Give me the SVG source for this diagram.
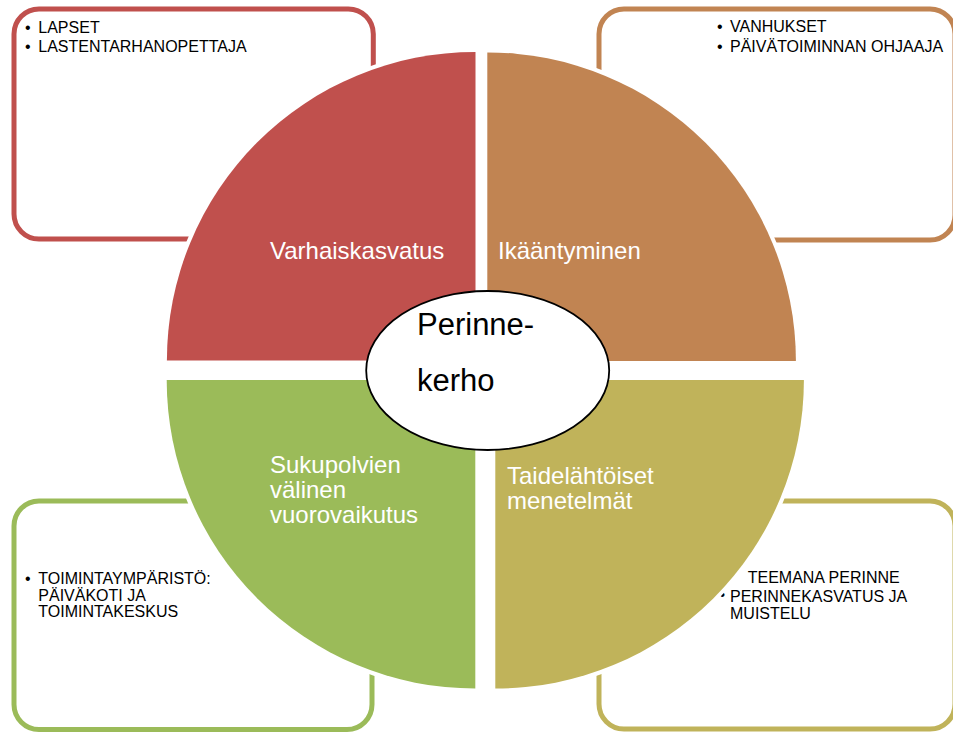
<svg xmlns="http://www.w3.org/2000/svg" width="953" height="733" viewBox="0 0 953 733">
<style>
.box{fill:#fff;stroke-width:5}
.q{stroke:#fff;stroke-width:8;paint-order:stroke}
.bt{font-family:"Liberation Sans",Arial,sans-serif;font-size:16px;fill:#000}
.qt{font-family:"Liberation Sans",Arial,sans-serif;font-size:24px;fill:#fff}
.ct{font-family:"Liberation Sans",Arial,sans-serif;font-size:31px;fill:#000}
</style>
<rect width="953" height="733" fill="#fff"/>
<g id="box-red">
<rect class="box" x="14" y="9" width="359.3" height="230" rx="25" stroke="#C0504D"/>
<text class="bt"><tspan x="25" y="32.5">•</tspan><tspan x="38.3" y="32.5">LAPSET</tspan><tspan x="25" y="52.3">•</tspan><tspan x="38.3" y="52.3">LASTENTARHANOPETTAJA</tspan></text>
</g>
<g id="box-orange">
<rect class="box" x="599" y="9" width="356" height="231" rx="25" stroke="#C18452"/>
<text class="bt"><tspan x="717" y="32.3">•</tspan><tspan x="730" y="32.3">VANHUKSET</tspan><tspan x="717" y="51.7">•</tspan><tspan x="730" y="51.7">PÄIVÄTOIMINNAN OHJAAJA</tspan></text>
</g>
<g id="box-green">
<rect class="box" x="14" y="501" width="358" height="228.5" rx="25" stroke="#9BBB59"/>
<text class="bt"><tspan x="25" y="584.3">•</tspan><tspan x="38.3" y="584.3">TOIMINTAYMPÄRISTÖ:</tspan><tspan x="38.3" y="600.8">PÄIVÄKOTI JA</tspan><tspan x="38.3" y="617.3">TOIMINTAKESKUS</tspan></text>
</g>
<g id="box-olive">
<rect class="box" x="599" y="501" width="356" height="228" rx="25" stroke="#C0B35A"/>
<text class="bt"><tspan x="747.7" y="583.3">TEEMANA PERINNE</tspan><tspan x="730" y="602">PERINNEKASVATUS JA</tspan><tspan x="730" y="619.3">MUISTELU</tspan></text>
<text class="bt" x="719.5" y="600" font-size="8">•</text>
</g>
<g id="q-red">
<path class="q" fill="#C0504D" d="M475.5,360.5 L166.9,360.5 A308.6,308.6 0 0 1 475.5,51.9 Z"/>
<text class="qt" x="270" y="259">Varhaiskasvatus</text>
</g>
<g id="q-orange">
<path class="q" fill="#C18452" d="M487.3,361 L487.3,52.4 A308.6,308.6 0 0 1 795.9,361 Z"/>
<text class="qt" x="498" y="259">Ikääntyminen</text>
</g>
<g id="q-green">
<path class="q" fill="#9BBB59" d="M475.3,380 L475.3,688.6 A308.6,308.6 0 0 1 166.7,380 Z"/>
<text class="qt"><tspan x="270" y="473">Sukupolvien</tspan><tspan x="270" y="498">välinen</tspan><tspan x="270" y="523">vuorovaikutus</tspan></text>
</g>
<g id="q-olive">
<path class="q" fill="#C0B35A" d="M495.3,380 L803.9,380 A308.6,308.6 0 0 1 495.3,688.6 Z"/>
<text class="qt"><tspan x="507" y="484">Taidelähtöiset</tspan><tspan x="507" y="509">menetelmät</tspan></text>
</g>
<g id="center">
<ellipse cx="487.7" cy="370.5" rx="121.5" ry="79.5" fill="#fff" stroke="#000" stroke-width="1.8"/>
<text class="ct"><tspan x="417" y="335">Perinne-</tspan><tspan x="417" y="390.7">kerho</tspan></text>
</g>
<g id="connectors"></g>
</svg>
